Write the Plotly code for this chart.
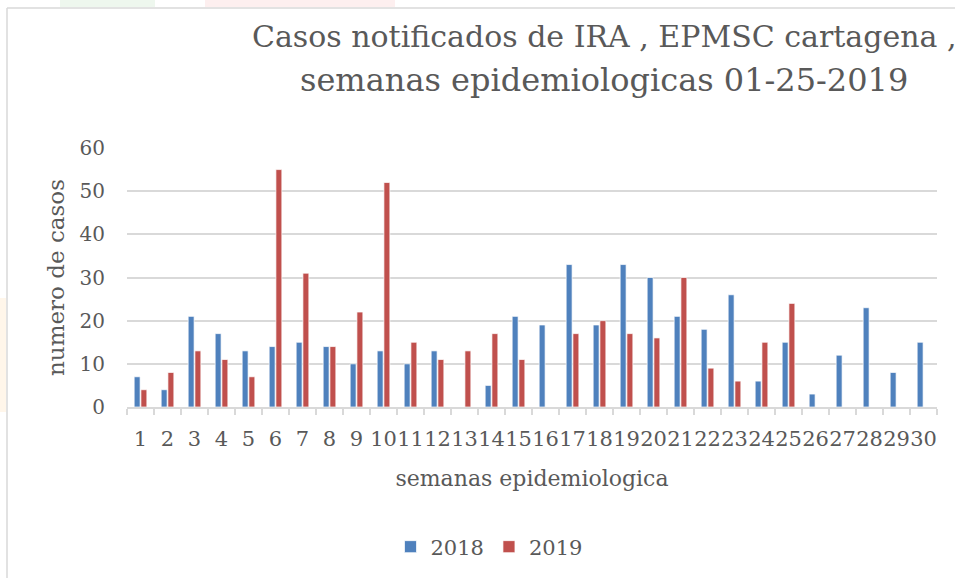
import plotly.graph_objects as go

weeks = [str(i) for i in range(1, 31)]
cases_2018 = [7, 4, 21, 17, 13, 14, 15, 14, 10, 13, 10, 13, None, 5, 21, 19, 33, 19, 33, 30,
              21, 18, 26, 6, 15, 3, 12, 23, 8, 15]
cases_2019 = [4, 8, 13, 11, 7, 55, 31, 14, 22, 52, 15, 11, 13, 17, 11, None, 17, 20, 17, 16,
              30, 9, 6, 15, 24, None, None, None, None, None]
series_names = ["2018", "2019"]
title_lines = ["Casos notificados de IRA , EPMSC cartagena ,", "semanas epidemiologicas 01-25-2019"]
x_title = "semanas epidemiologica"
y_title = "numero de casos"

FONT = "DejaVu Serif"
TXT = "#595959"
GRID = "#d9d9d9"
W, H = 955, 578
# plot area in screen pixels
SX0, SX1, SY0, SY1 = 127, 937, 148, 407
L, R, T, B = SX0, W - SX1, SY0, H - SY1
PW, PH = W - L - R, H - T - B


def px(sx):
    return (sx - SX0) / PW


def py(sy):
    return (SY1 - sy) / PH


fig = go.Figure()
fig.add_trace(go.Bar(x=weeks, y=cases_2018, name=series_names[0],
                     marker=dict(color="#4f81bd", line=dict(color="white", width=0.7))))
fig.add_trace(go.Bar(x=weeks, y=cases_2019, name=series_names[1],
                     marker=dict(color="#c0504d", line=dict(color="white", width=0.7))))

shapes = [
    # faint decorations outside the chart frame
    dict(type="rect", xref="paper", yref="paper", x0=px(60), x1=px(155), y0=py(7), y1=py(0),
         fillcolor="#eef7ee", line=dict(width=0), layer="below"),
    dict(type="rect", xref="paper", yref="paper", x0=px(205), x1=px(395), y0=py(7), y1=py(0),
         fillcolor="#fdefef", line=dict(width=0), layer="below"),
    dict(type="rect", xref="paper", yref="paper", x0=px(0), x1=px(6), y0=py(412), y1=py(298),
         fillcolor="#fff6ea", line=dict(width=0), layer="below"),
    # chart frame
    dict(type="line", xref="paper", yref="paper", x0=px(7), x1=px(7), y0=py(8), y1=py(600),
         line=dict(color=GRID, width=1.5)),
    dict(type="line", xref="paper", yref="paper", x0=px(7), x1=px(960), y0=py(8), y1=py(8),
         line=dict(color=GRID, width=1.5)),
]

annotations = [
    dict(text=title_lines[0], xref="paper", yref="paper", x=px(604), y=py(37),
         xanchor="center", yanchor="middle", showarrow=False,
         font=dict(family=FONT, size=30, color=TXT)),
    dict(text=title_lines[1], xref="paper", yref="paper", x=px(604), y=py(80),
         xanchor="center", yanchor="middle", showarrow=False,
         font=dict(family=FONT, size=32, color=TXT)),
]

fig.update_layout(
    width=W, height=H,
    margin=dict(l=L, r=R, t=T, b=B, autoexpand=False),
    paper_bgcolor="white", plot_bgcolor="white",
    font=dict(family=FONT, color=TXT, size=20),
    barmode="group", bargap=0.5, bargroupgap=0.12,
    annotations=annotations,
    legend=dict(orientation="h", x=px(489), xanchor="center", xref="paper",
                y=py(547), yanchor="middle", yref="paper", font=dict(size=21, color=TXT),
                traceorder="normal"),
    shapes=shapes,
    xaxis=dict(type="category", showgrid=False, showline=True, linecolor=GRID, linewidth=1.5,
               ticks="outside", tickson="boundaries", ticklen=6, tickcolor=GRID, tickwidth=1.5,
               tickfont=dict(size=21, color=TXT), ticklabelstandoff=12, tickangle=0,
               automargin=False,
               title=dict(text=x_title, font=dict(size=22, color=TXT), standoff=21)),
    yaxis=dict(range=[0, 60], dtick=10, showgrid=True, gridcolor=GRID, gridwidth=1.5,
               zeroline=False, showline=False, ticks="", tickfont=dict(size=20, color=TXT),
               ticklabelstandoff=21, automargin=False,
               title=dict(text=y_title, font=dict(size=23, color=TXT), standoff=8)),
)

fig.write_html("out.html", config={"displayModeBar": False},
               post_script="document.body.style.margin='0';")
